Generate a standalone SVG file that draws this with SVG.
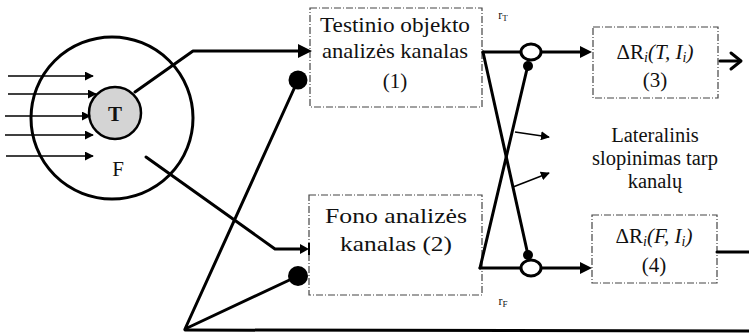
<svg xmlns="http://www.w3.org/2000/svg" width="749" height="336" viewBox="0 0 749 336">
<defs>
<style>
.ln{fill:none;stroke:#000;stroke-width:3;stroke-linecap:round;stroke-linejoin:round}
.thin{fill:none;stroke:#000;stroke-width:1.5}
.box{fill:#fff;stroke:#444;stroke-width:1.2;stroke-dasharray:7 2 1 2}
text{font-family:'Liberation Serif','DejaVu Serif',serif;fill:#111;text-anchor:middle}
.big{font-size:21px}
.mid{font-size:20.5px}
.sm{font-size:12px}
.dot{fill:#000}
.oc{fill:#fff;stroke:#000;stroke-width:3}
</style>
<marker id="ahs" viewBox="0 0 10 10" refX="9" refY="5" markerWidth="6" markerHeight="6" orient="auto" markerUnits="strokeWidth">
<path d="M0,0 L10,5 L0,10 z" fill="#000"/>
</marker>
</defs>
<rect width="749" height="336" fill="#fff"/>

<g id="scene">
<circle cx="112" cy="118" r="81" class="ln"/>
<circle cx="115" cy="113" r="26" fill="#d4d4d4" stroke="#000" stroke-width="2.5"/>
<text x="115" y="121" class="big" font-family="Liberation Serif, serif" font-weight="bold">T</text>
<text x="118" y="176" class="big" font-family="Liberation Serif, serif">F</text>
<g id="input-rays">
<line x1="8" y1="76" x2="93" y2="76" class="thin" marker-end="url(#ahs)"/>
<line x1="8" y1="94" x2="96" y2="94" class="thin" marker-end="url(#ahs)"/>
<line x1="5" y1="116" x2="90" y2="116" class="thin" marker-end="url(#ahs)"/>
<line x1="5" y1="135" x2="93" y2="135" class="thin" marker-end="url(#ahs)"/>
<line x1="6" y1="156" x2="93" y2="156" class="thin" marker-end="url(#ahs)"/>
</g>
</g>

<g id="box1">
<rect x="310" y="8" width="172" height="99" class="box"/>
<text x="395" y="32" class="big" font-family="Liberation Serif, serif" textLength="150" lengthAdjust="spacingAndGlyphs">Testinio objekto</text>
<text x="395" y="58" class="big" font-family="Liberation Serif, serif" textLength="146" lengthAdjust="spacingAndGlyphs">analizės kanalas</text>
<text x="395" y="88" class="big" font-family="Liberation Serif, serif">(1)</text>
</g>

<g id="box2">
<rect x="309" y="195" width="173" height="100" class="box"/>
<text x="396" y="223" class="big" font-family="Liberation Serif, serif" textLength="142" lengthAdjust="spacingAndGlyphs">Fono analizės</text>
<text x="396" y="251" class="big" font-family="Liberation Serif, serif" textLength="112" lengthAdjust="spacingAndGlyphs">kanalas (2)</text>
</g>

<g id="box3">
<rect x="593" y="27" width="125" height="71" class="box"/>
<text x="655" y="59" class="big" font-family="Liberation Serif, serif">ΔR<tspan font-style="italic" font-size="14" dy="3">i</tspan><tspan font-style="italic" dy="-3">(T, I</tspan><tspan font-style="italic" font-size="14" dy="3">i</tspan><tspan dy="-3" font-style="italic">)</tspan></text>
<text x="655" y="87" class="big" font-family="Liberation Serif, serif">(3)</text>
</g>

<g id="box4">
<rect x="592" y="215" width="125" height="68" class="box"/>
<text x="654" y="243" class="big" font-family="Liberation Serif, serif">ΔR<tspan font-style="italic" font-size="14" dy="3">i</tspan><tspan font-style="italic" dy="-3">(F, I</tspan><tspan font-style="italic" font-size="14" dy="3">i</tspan><tspan dy="-3" font-style="italic">)</tspan></text>
<text x="654" y="272" class="big" font-family="Liberation Serif, serif">(4)</text>
</g>

<g id="lateral-label">
<text x="655" y="142" class="mid" font-family="Liberation Serif, serif">Lateralinis</text>
<text x="655" y="165" class="mid" font-family="Liberation Serif, serif">slopinimas tarp</text>
<text x="655" y="188" class="mid" font-family="Liberation Serif, serif">kanalų</text>
</g>

<g id="labels">
<text x="503" y="19" class="sm" font-family="Liberation Serif, serif">r<tspan font-size="9" dy="2">T</tspan></text>
<text x="503" y="305" class="sm" font-family="Liberation Serif, serif">r<tspan font-size="9" dy="2">F</tspan></text>
</g>

<g id="connectors">
<polyline points="135,92 193,51 300,51" class="ln"/>
<path d="M298,44 L312,51 L298,58 z" fill="#000"/>
<polyline points="146,157 275,249 302,249" class="ln"/>
<path d="M300,244 L309,249 L300,254 z" fill="#000"/>
<line x1="309" y1="243" x2="309" y2="255" stroke="#000" stroke-width="2"/>
<polyline points="298,80 185,329 298,276" class="ln"/>
<line x1="185" y1="330" x2="749" y2="331" class="ln"/>
<circle cx="298" cy="80" r="9.5" class="dot"/>
<circle cx="298" cy="276" r="10" class="dot"/>
<line x1="483" y1="52" x2="582" y2="52" class="ln"/>
<path d="M580,46 L592,52 L580,58 z" fill="#000"/>
<line x1="480" y1="268" x2="582" y2="268" class="ln"/>
<path d="M580,262 L592,268 L580,274 z" fill="#000"/>
<line x1="483" y1="52" x2="528" y2="255" class="ln"/>
<line x1="480" y1="268" x2="527" y2="69" class="ln"/>
<ellipse cx="531" cy="52" rx="10" ry="8" class="oc"/>
<ellipse cx="531" cy="268" rx="10" ry="8" class="oc"/>
<circle cx="528" cy="66" r="5" class="dot"/>
<circle cx="528" cy="255" r="5" class="dot"/>
<line x1="515" y1="132" x2="549" y2="137" class="thin" marker-end="url(#ahs)"/>
<line x1="513" y1="187" x2="549" y2="173" class="thin" marker-end="url(#ahs)"/>
<line x1="720" y1="61" x2="740" y2="61" class="ln"/>
<polyline points="731,53 741,61 731,69" class="ln"/>
<line x1="717" y1="252" x2="749" y2="252" class="ln"/>
</g>
</svg>
